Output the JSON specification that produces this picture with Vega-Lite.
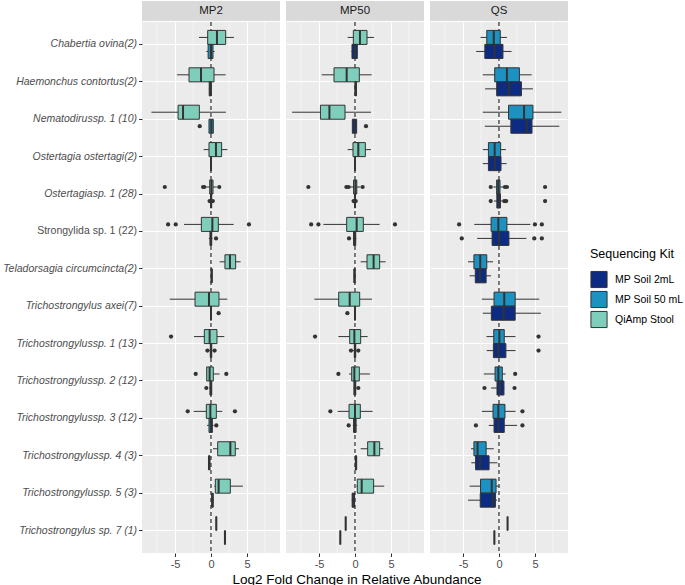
{
"$schema": "https://vega.github.io/schema/vega-lite/v6.json",
"padding": {"left": 2, "top": 1, "right": 5, "bottom": 0},
"background": "white",
"spacing": 6,
"title": {"text": "Log2 Fold Change in Relative Abundance", "orient": "bottom", "anchor": "middle", "frame": "group", "dx": 215, "fontSize": 13.5, "fontWeight": "normal", "color": "#000000", "offset": 3, "font": "Liberation Sans"},
"resolve": {"scale": {"yOffset": "independent", "fill": "shared"}},
"config": {
 "font": "Liberation Sans",
 "view": {"stroke": null},
 "axis": {"labelColor": "#4d4d4d", "labelFontSize": 11, "tickColor": "#333333", "tickSize": 3.5, "domain": false, "gridColor": "#ffffff", "titleFontWeight": "normal", "titleColor": "#000000", "titleFontSize": 13.5, "labelFont": "Liberation Sans", "titleFont": "Liberation Sans"},
 "legend": {"labelFont": "Liberation Sans", "titleFont": "Liberation Sans"}
},
"datasets": {
"minor": [{"g": -7.5}, {"g": -2.5}, {"g": 2.5}, {"g": 7.5}],
"boxes": [
{"panel":"MP2","taxon":"Chabertia ovina(2)","kit":"QiAmp Stool","lo":-1.67,"q1":-0.46,"med":0.83,"q3":2.04,"hi":3.19},
{"panel":"MP2","taxon":"Haemonchus contortus(2)","kit":"QiAmp Stool","lo":-4.72,"q1":-3.06,"med":-1.39,"q3":0.42,"hi":2.04},
{"panel":"MP2","taxon":"Nematodirussp. 1 (10)","kit":"QiAmp Stool","lo":-8.29,"q1":-4.58,"med":-3.89,"q3":-1.62,"hi":2.08},
{"panel":"MP2","taxon":"Ostertagia ostertagi(2)","kit":"QiAmp Stool","lo":-1.02,"q1":-0.28,"med":0.69,"q3":1.48,"hi":2.27},
{"panel":"MP2","taxon":"Ostertagiasp. 1 (28)","kit":"QiAmp Stool","lo":-0.8,"q1":-0.18,"med":0.05,"q3":0.28,"hi":0.8},
{"panel":"MP2","taxon":"Strongylida sp. 1 (22)","kit":"QiAmp Stool","lo":-3.75,"q1":-1.34,"med":0.19,"q3":1.02,"hi":3.15},
{"panel":"MP2","taxon":"Teladorsagia circumcincta(2)","kit":"QiAmp Stool","lo":1.2,"q1":1.94,"med":2.64,"q3":3.43,"hi":4.12},
{"panel":"MP2","taxon":"Trichostrongylus axei(7)","kit":"QiAmp Stool","lo":-5.74,"q1":-2.22,"med":-0.28,"q3":1.11,"hi":2.27},
{"panel":"MP2","taxon":"Trichostrongylussp. 1 (13)","kit":"QiAmp Stool","lo":-2.36,"q1":-0.93,"med":-0.19,"q3":0.83,"hi":1.85},
{"panel":"MP2","taxon":"Trichostrongylussp. 2 (12)","kit":"QiAmp Stool","lo":-0.65,"q1":-0.6,"med":-0.19,"q3":0.32,"hi":1.2},
{"panel":"MP2","taxon":"Trichostrongylussp. 3 (12)","kit":"QiAmp Stool","lo":-2.41,"q1":-0.65,"med":-0.09,"q3":0.74,"hi":1.57},
{"panel":"MP2","taxon":"Trichostrongylussp. 4 (3)","kit":"QiAmp Stool","lo":0.28,"q1":0.93,"med":2.69,"q3":3.38,"hi":3.89},
{"panel":"MP2","taxon":"Trichostrongylussp. 5 (3)","kit":"QiAmp Stool","lo":0.45,"q1":0.6,"med":1.06,"q3":2.69,"hi":4.44},
{"panel":"MP2","taxon":"Trichostrongylus sp. 7 (1)","kit":"QiAmp Stool","lo":0.74,"q1":0.74,"med":0.74,"q3":0.74,"hi":0.74},
{"panel":"MP2","taxon":"Chabertia ovina(2)","kit":"MP Soil 50 mL","lo":-0.65,"q1":-0.4,"med":0.0,"q3":0.28,"hi":0.5},
{"panel":"MP2","taxon":"Haemonchus contortus(2)","kit":"MP Soil 50 mL","lo":-0.3,"q1":-0.25,"med":-0.1,"q3":0.05,"hi":0.1},
{"panel":"MP2","taxon":"Nematodirussp. 1 (10)","kit":"MP Soil 50 mL","lo":-0.28,"q1":-0.28,"med":0.05,"q3":0.32,"hi":0.32},
{"panel":"MP2","taxon":"Ostertagia ostertagi(2)","kit":"MP Soil 50 mL","lo":-0.08,"q1":-0.05,"med":0.0,"q3":0.05,"hi":0.08},
{"panel":"MP2","taxon":"Ostertagiasp. 1 (28)","kit":"MP Soil 50 mL","lo":-0.1,"q1":-0.05,"med":0.02,"q3":0.08,"hi":0.15},
{"panel":"MP2","taxon":"Strongylida sp. 1 (22)","kit":"MP Soil 50 mL","lo":-0.3,"q1":-0.15,"med":0.0,"q3":0.1,"hi":0.2},
{"panel":"MP2","taxon":"Teladorsagia circumcincta(2)","kit":"MP Soil 50 mL","lo":0.0,"q1":0.02,"med":0.1,"q3":0.15,"hi":0.2},
{"panel":"MP2","taxon":"Trichostrongylus axei(7)","kit":"MP Soil 50 mL","lo":-0.14,"q1":-0.05,"med":0.0,"q3":0.05,"hi":0.1},
{"panel":"MP2","taxon":"Trichostrongylussp. 1 (13)","kit":"MP Soil 50 mL","lo":-0.2,"q1":-0.1,"med":0.0,"q3":0.1,"hi":0.2},
{"panel":"MP2","taxon":"Trichostrongylussp. 2 (12)","kit":"MP Soil 50 mL","lo":-0.25,"q1":-0.15,"med":0.0,"q3":0.1,"hi":0.15},
{"panel":"MP2","taxon":"Trichostrongylussp. 3 (12)","kit":"MP Soil 50 mL","lo":-0.55,"q1":-0.28,"med":0.0,"q3":0.19,"hi":0.37},
{"panel":"MP2","taxon":"Trichostrongylussp. 4 (3)","kit":"MP Soil 50 mL","lo":-0.42,"q1":-0.35,"med":-0.25,"q3":-0.15,"hi":-0.1},
{"panel":"MP2","taxon":"Trichostrongylussp. 5 (3)","kit":"MP Soil 50 mL","lo":0.05,"q1":0.1,"med":0.2,"q3":0.3,"hi":0.37},
{"panel":"MP2","taxon":"Trichostrongylus sp. 7 (1)","kit":"MP Soil 50 mL","lo":1.94,"q1":1.94,"med":1.94,"q3":1.94,"hi":1.94},
{"panel":"MP50","taxon":"Chabertia ovina(2)","kit":"QiAmp Stool","lo":-1.02,"q1":-0.23,"med":0.69,"q3":1.67,"hi":2.64},
{"panel":"MP50","taxon":"Haemonchus contortus(2)","kit":"QiAmp Stool","lo":-4.63,"q1":-2.92,"med":-1.16,"q3":0.6,"hi":2.31},
{"panel":"MP50","taxon":"Nematodirussp. 1 (10)","kit":"QiAmp Stool","lo":-8.75,"q1":-4.81,"med":-3.56,"q3":-1.39,"hi":2.22},
{"panel":"MP50","taxon":"Ostertagia ostertagi(2)","kit":"QiAmp Stool","lo":-1.02,"q1":-0.28,"med":0.46,"q3":1.44,"hi":2.22},
{"panel":"MP50","taxon":"Ostertagiasp. 1 (28)","kit":"QiAmp Stool","lo":-0.7,"q1":-0.2,"med":0.05,"q3":0.25,"hi":0.75},
{"panel":"MP50","taxon":"Strongylida sp. 1 (22)","kit":"QiAmp Stool","lo":-4.4,"q1":-1.16,"med":0.23,"q3":1.16,"hi":3.43},
{"panel":"MP50","taxon":"Teladorsagia circumcincta(2)","kit":"QiAmp Stool","lo":0.79,"q1":1.67,"med":2.59,"q3":3.43,"hi":4.26},
{"panel":"MP50","taxon":"Trichostrongylus axei(7)","kit":"QiAmp Stool","lo":-5.65,"q1":-2.27,"med":-0.74,"q3":0.65,"hi":2.36},
{"panel":"MP50","taxon":"Trichostrongylussp. 1 (13)","kit":"QiAmp Stool","lo":-2.31,"q1":-0.74,"med":-0.09,"q3":0.79,"hi":1.76},
{"panel":"MP50","taxon":"Trichostrongylussp. 2 (12)","kit":"QiAmp Stool","lo":-0.83,"q1":-0.46,"med":-0.09,"q3":0.6,"hi":2.08},
{"panel":"MP50","taxon":"Trichostrongylussp. 3 (12)","kit":"QiAmp Stool","lo":-2.41,"q1":-0.83,"med":0.0,"q3":0.74,"hi":2.45},
{"panel":"MP50","taxon":"Trichostrongylussp. 4 (3)","kit":"QiAmp Stool","lo":0.79,"q1":1.76,"med":2.69,"q3":3.43,"hi":3.94},
{"panel":"MP50","taxon":"Trichostrongylussp. 5 (3)","kit":"QiAmp Stool","lo":0.2,"q1":0.32,"med":0.93,"q3":2.59,"hi":4.07},
{"panel":"MP50","taxon":"Trichostrongylus sp. 7 (1)","kit":"QiAmp Stool","lo":-1.3,"q1":-1.3,"med":-1.3,"q3":-1.3,"hi":-1.3},
{"panel":"MP50","taxon":"Chabertia ovina(2)","kit":"MP Soil 2mL","lo":-0.5,"q1":-0.42,"med":0.0,"q3":0.32,"hi":0.4},
{"panel":"MP50","taxon":"Haemonchus contortus(2)","kit":"MP Soil 2mL","lo":-0.05,"q1":0.0,"med":0.1,"q3":0.2,"hi":0.25},
{"panel":"MP50","taxon":"Nematodirussp. 1 (10)","kit":"MP Soil 2mL","lo":-0.37,"q1":-0.37,"med":-0.05,"q3":0.23,"hi":0.23},
{"panel":"MP50","taxon":"Ostertagia ostertagi(2)","kit":"MP Soil 2mL","lo":-0.05,"q1":-0.03,"med":0.0,"q3":0.03,"hi":0.05},
{"panel":"MP50","taxon":"Ostertagiasp. 1 (28)","kit":"MP Soil 2mL","lo":-0.1,"q1":-0.05,"med":0.0,"q3":0.05,"hi":0.1},
{"panel":"MP50","taxon":"Strongylida sp. 1 (22)","kit":"MP Soil 2mL","lo":-0.3,"q1":-0.2,"med":0.0,"q3":0.1,"hi":0.2},
{"panel":"MP50","taxon":"Teladorsagia circumcincta(2)","kit":"MP Soil 2mL","lo":-0.2,"q1":-0.15,"med":-0.05,"q3":0.0,"hi":0.05},
{"panel":"MP50","taxon":"Trichostrongylus axei(7)","kit":"MP Soil 2mL","lo":-0.1,"q1":-0.05,"med":0.0,"q3":0.05,"hi":0.1},
{"panel":"MP50","taxon":"Trichostrongylussp. 1 (13)","kit":"MP Soil 2mL","lo":-0.25,"q1":-0.1,"med":0.0,"q3":0.1,"hi":0.2},
{"panel":"MP50","taxon":"Trichostrongylussp. 2 (12)","kit":"MP Soil 2mL","lo":-0.2,"q1":-0.15,"med":0.0,"q3":0.1,"hi":0.15},
{"panel":"MP50","taxon":"Trichostrongylussp. 3 (12)","kit":"MP Soil 2mL","lo":-0.3,"q1":-0.2,"med":0.0,"q3":0.15,"hi":0.3},
{"panel":"MP50","taxon":"Trichostrongylussp. 4 (3)","kit":"MP Soil 2mL","lo":0.0,"q1":0.05,"med":0.15,"q3":0.22,"hi":0.28},
{"panel":"MP50","taxon":"Trichostrongylussp. 5 (3)","kit":"MP Soil 2mL","lo":-0.46,"q1":-0.4,"med":-0.2,"q3":-0.05,"hi":0.0},
{"panel":"MP50","taxon":"Trichostrongylus sp. 7 (1)","kit":"MP Soil 2mL","lo":-2.04,"q1":-2.04,"med":-2.04,"q3":-2.04,"hi":-2.04},
{"panel":"QS","taxon":"Chabertia ovina(2)","kit":"MP Soil 50 mL","lo":-2.57,"q1":-1.7,"med":-0.73,"q3":0.18,"hi":1.1},
{"panel":"QS","taxon":"Haemonchus contortus(2)","kit":"MP Soil 50 mL","lo":-2.25,"q1":-0.6,"med":1.1,"q3":2.84,"hi":4.54},
{"panel":"QS","taxon":"Nematodirussp. 1 (10)","kit":"MP Soil 50 mL","lo":-2.25,"q1":1.33,"med":3.49,"q3":4.72,"hi":8.67},
{"panel":"QS","taxon":"Ostertagia ostertagi(2)","kit":"MP Soil 50 mL","lo":-2.25,"q1":-1.47,"med":-0.6,"q3":0.23,"hi":0.96},
{"panel":"QS","taxon":"Ostertagiasp. 1 (28)","kit":"MP Soil 50 mL","lo":-0.78,"q1":-0.33,"med":-0.1,"q3":0.14,"hi":0.59},
{"panel":"QS","taxon":"Strongylida sp. 1 (22)","kit":"MP Soil 50 mL","lo":-3.44,"q1":-1.1,"med":-0.09,"q3":1.1,"hi":4.36},
{"panel":"QS","taxon":"Teladorsagia circumcincta(2)","kit":"MP Soil 50 mL","lo":-4.31,"q1":-3.49,"med":-2.61,"q3":-1.7,"hi":-0.83},
{"panel":"QS","taxon":"Trichostrongylus axei(7)","kit":"MP Soil 50 mL","lo":-2.39,"q1":-0.69,"med":0.73,"q3":2.25,"hi":5.6},
{"panel":"QS","taxon":"Trichostrongylussp. 1 (13)","kit":"MP Soil 50 mL","lo":-1.74,"q1":-0.73,"med":0.05,"q3":0.73,"hi":2.29},
{"panel":"QS","taxon":"Trichostrongylussp. 2 (12)","kit":"MP Soil 50 mL","lo":-2.11,"q1":-0.55,"med":-0.09,"q3":0.46,"hi":0.92},
{"panel":"QS","taxon":"Trichostrongylussp. 3 (12)","kit":"MP Soil 50 mL","lo":-2.39,"q1":-0.83,"med":-0.09,"q3":0.83,"hi":2.29},
{"panel":"QS","taxon":"Trichostrongylussp. 4 (3)","kit":"MP Soil 50 mL","lo":-3.9,"q1":-3.49,"med":-2.98,"q3":-1.79,"hi":-0.73},
{"panel":"QS","taxon":"Trichostrongylussp. 5 (3)","kit":"MP Soil 50 mL","lo":-4.08,"q1":-2.57,"med":-1.01,"q3":-0.41,"hi":0.05},
{"panel":"QS","taxon":"Trichostrongylus sp. 7 (1)","kit":"MP Soil 50 mL","lo":1.19,"q1":1.19,"med":1.19,"q3":1.19,"hi":1.19},
{"panel":"QS","taxon":"Chabertia ovina(2)","kit":"MP Soil 2mL","lo":-3.17,"q1":-1.97,"med":-0.64,"q3":0.55,"hi":1.74},
{"panel":"QS","taxon":"Haemonchus contortus(2)","kit":"MP Soil 2mL","lo":-1.93,"q1":-0.32,"med":1.42,"q3":3.12,"hi":4.72},
{"panel":"QS","taxon":"Nematodirussp. 1 (10)","kit":"MP Soil 2mL","lo":-1.97,"q1":1.65,"med":3.85,"q3":4.59,"hi":8.39},
{"panel":"QS","taxon":"Ostertagia ostertagi(2)","kit":"MP Soil 2mL","lo":-2.25,"q1":-1.47,"med":-0.55,"q3":0.28,"hi":1.06},
{"panel":"QS","taxon":"Ostertagiasp. 1 (28)","kit":"MP Soil 2mL","lo":-0.7,"q1":-0.3,"med":-0.05,"q3":0.2,"hi":0.5},
{"panel":"QS","taxon":"Strongylida sp. 1 (22)","kit":"MP Soil 2mL","lo":-3.03,"q1":-0.96,"med":0.0,"q3":1.38,"hi":3.81},
{"panel":"QS","taxon":"Teladorsagia circumcincta(2)","kit":"MP Soil 2mL","lo":-4.08,"q1":-3.3,"med":-2.66,"q3":-1.79,"hi":-1.1},
{"panel":"QS","taxon":"Trichostrongylus axei(7)","kit":"MP Soil 2mL","lo":-2.25,"q1":-1.06,"med":0.64,"q3":2.25,"hi":5.83},
{"panel":"QS","taxon":"Trichostrongylussp. 1 (13)","kit":"MP Soil 2mL","lo":-1.7,"q1":-0.78,"med":-0.09,"q3":0.96,"hi":2.29},
{"panel":"QS","taxon":"Trichostrongylussp. 2 (12)","kit":"MP Soil 2mL","lo":-1.1,"q1":-0.28,"med":0.14,"q3":0.69,"hi":0.73},
{"panel":"QS","taxon":"Trichostrongylussp. 3 (12)","kit":"MP Soil 2mL","lo":-1.42,"q1":-0.69,"med":-0.09,"q3":0.73,"hi":2.52},
{"panel":"QS","taxon":"Trichostrongylussp. 4 (3)","kit":"MP Soil 2mL","lo":-3.85,"q1":-3.26,"med":-2.66,"q3":-1.38,"hi":-0.23},
{"panel":"QS","taxon":"Trichostrongylussp. 5 (3)","kit":"MP Soil 2mL","lo":-4.31,"q1":-2.61,"med":-0.87,"q3":-0.5,"hi":-0.28},
{"panel":"QS","taxon":"Trichostrongylus sp. 7 (1)","kit":"MP Soil 2mL","lo":-0.64,"q1":-0.64,"med":-0.64,"q3":-0.64,"hi":-0.64}
],
"outliers": [
{"panel":"MP2","taxon":"Ostertagiasp. 1 (28)","kit":"QiAmp Stool","v":-6.43},
{"panel":"MP2","taxon":"Ostertagiasp. 1 (28)","kit":"QiAmp Stool","v":-1.1},
{"panel":"MP2","taxon":"Ostertagiasp. 1 (28)","kit":"QiAmp Stool","v":-0.95},
{"panel":"MP2","taxon":"Ostertagiasp. 1 (28)","kit":"QiAmp Stool","v":1.15},
{"panel":"MP2","taxon":"Strongylida sp. 1 (22)","kit":"QiAmp Stool","v":-5.97},
{"panel":"MP2","taxon":"Strongylida sp. 1 (22)","kit":"QiAmp Stool","v":-4.91},
{"panel":"MP2","taxon":"Strongylida sp. 1 (22)","kit":"QiAmp Stool","v":5.28},
{"panel":"MP2","taxon":"Trichostrongylussp. 1 (13)","kit":"QiAmp Stool","v":-5.56},
{"panel":"MP2","taxon":"Trichostrongylussp. 2 (12)","kit":"QiAmp Stool","v":-2.13},
{"panel":"MP2","taxon":"Trichostrongylussp. 2 (12)","kit":"QiAmp Stool","v":2.13},
{"panel":"MP2","taxon":"Trichostrongylussp. 3 (12)","kit":"QiAmp Stool","v":-3.24},
{"panel":"MP2","taxon":"Trichostrongylussp. 3 (12)","kit":"QiAmp Stool","v":3.33},
{"panel":"MP2","taxon":"Nematodirussp. 1 (10)","kit":"MP Soil 50 mL","v":-1.57},
{"panel":"MP2","taxon":"Ostertagiasp. 1 (28)","kit":"MP Soil 50 mL","v":-0.2},
{"panel":"MP2","taxon":"Ostertagiasp. 1 (28)","kit":"MP Soil 50 mL","v":0.25},
{"panel":"MP2","taxon":"Strongylida sp. 1 (22)","kit":"MP Soil 50 mL","v":0.7},
{"panel":"MP2","taxon":"Trichostrongylus axei(7)","kit":"MP Soil 50 mL","v":1.06},
{"panel":"MP2","taxon":"Trichostrongylussp. 1 (13)","kit":"MP Soil 50 mL","v":-0.5},
{"panel":"MP2","taxon":"Trichostrongylussp. 1 (13)","kit":"MP Soil 50 mL","v":0.5},
{"panel":"MP2","taxon":"Trichostrongylussp. 2 (12)","kit":"MP Soil 50 mL","v":-0.65},
{"panel":"MP2","taxon":"Trichostrongylussp. 3 (12)","kit":"MP Soil 50 mL","v":0.74},
{"panel":"MP50","taxon":"Ostertagiasp. 1 (28)","kit":"QiAmp Stool","v":-6.49},
{"panel":"MP50","taxon":"Ostertagiasp. 1 (28)","kit":"QiAmp Stool","v":-1.2},
{"panel":"MP50","taxon":"Ostertagiasp. 1 (28)","kit":"QiAmp Stool","v":-0.9},
{"panel":"MP50","taxon":"Ostertagiasp. 1 (28)","kit":"QiAmp Stool","v":1.06},
{"panel":"MP50","taxon":"Strongylida sp. 1 (22)","kit":"QiAmp Stool","v":-6.1},
{"panel":"MP50","taxon":"Strongylida sp. 1 (22)","kit":"QiAmp Stool","v":-5.09},
{"panel":"MP50","taxon":"Strongylida sp. 1 (22)","kit":"QiAmp Stool","v":5.56},
{"panel":"MP50","taxon":"Trichostrongylussp. 1 (13)","kit":"QiAmp Stool","v":-5.56},
{"panel":"MP50","taxon":"Trichostrongylussp. 2 (12)","kit":"QiAmp Stool","v":-2.31},
{"panel":"MP50","taxon":"Trichostrongylussp. 3 (12)","kit":"QiAmp Stool","v":-3.43},
{"panel":"MP50","taxon":"Nematodirussp. 1 (10)","kit":"MP Soil 2mL","v":1.53},
{"panel":"MP50","taxon":"Ostertagiasp. 1 (28)","kit":"MP Soil 2mL","v":-0.2},
{"panel":"MP50","taxon":"Ostertagiasp. 1 (28)","kit":"MP Soil 2mL","v":0.1},
{"panel":"MP50","taxon":"Strongylida sp. 1 (22)","kit":"MP Soil 2mL","v":-0.83},
{"panel":"MP50","taxon":"Trichostrongylus axei(7)","kit":"MP Soil 2mL","v":-1.06},
{"panel":"MP50","taxon":"Trichostrongylussp. 1 (13)","kit":"MP Soil 2mL","v":-0.56},
{"panel":"MP50","taxon":"Trichostrongylussp. 1 (13)","kit":"MP Soil 2mL","v":0.46},
{"panel":"MP50","taxon":"Trichostrongylussp. 2 (12)","kit":"MP Soil 2mL","v":0.46},
{"panel":"MP50","taxon":"Trichostrongylussp. 3 (12)","kit":"MP Soil 2mL","v":-0.88},
{"panel":"QS","taxon":"Ostertagiasp. 1 (28)","kit":"MP Soil 50 mL","v":-1.15},
{"panel":"QS","taxon":"Ostertagiasp. 1 (28)","kit":"MP Soil 50 mL","v":0.82},
{"panel":"QS","taxon":"Ostertagiasp. 1 (28)","kit":"MP Soil 50 mL","v":1.1},
{"panel":"QS","taxon":"Ostertagiasp. 1 (28)","kit":"MP Soil 50 mL","v":6.41},
{"panel":"QS","taxon":"Strongylida sp. 1 (22)","kit":"MP Soil 50 mL","v":-5.55},
{"panel":"QS","taxon":"Strongylida sp. 1 (22)","kit":"MP Soil 50 mL","v":5.0},
{"panel":"QS","taxon":"Strongylida sp. 1 (22)","kit":"MP Soil 50 mL","v":5.96},
{"panel":"QS","taxon":"Trichostrongylussp. 1 (13)","kit":"MP Soil 50 mL","v":5.5},
{"panel":"QS","taxon":"Trichostrongylussp. 2 (12)","kit":"MP Soil 50 mL","v":2.25},
{"panel":"QS","taxon":"Trichostrongylussp. 3 (12)","kit":"MP Soil 50 mL","v":3.26},
{"panel":"QS","taxon":"Ostertagiasp. 1 (28)","kit":"MP Soil 2mL","v":-1.15},
{"panel":"QS","taxon":"Ostertagiasp. 1 (28)","kit":"MP Soil 2mL","v":0.73},
{"panel":"QS","taxon":"Ostertagiasp. 1 (28)","kit":"MP Soil 2mL","v":1.0},
{"panel":"QS","taxon":"Ostertagiasp. 1 (28)","kit":"MP Soil 2mL","v":6.41},
{"panel":"QS","taxon":"Strongylida sp. 1 (22)","kit":"MP Soil 2mL","v":-5.18},
{"panel":"QS","taxon":"Strongylida sp. 1 (22)","kit":"MP Soil 2mL","v":4.91},
{"panel":"QS","taxon":"Strongylida sp. 1 (22)","kit":"MP Soil 2mL","v":5.96},
{"panel":"QS","taxon":"Trichostrongylussp. 1 (13)","kit":"MP Soil 2mL","v":5.5},
{"panel":"QS","taxon":"Trichostrongylussp. 2 (12)","kit":"MP Soil 2mL","v":-2.02},
{"panel":"QS","taxon":"Trichostrongylussp. 2 (12)","kit":"MP Soil 2mL","v":2.16},
{"panel":"QS","taxon":"Trichostrongylussp. 3 (12)","kit":"MP Soil 2mL","v":-3.21},
{"panel":"QS","taxon":"Trichostrongylussp. 3 (12)","kit":"MP Soil 2mL","v":3.26}
]
},
"hconcat": [
{"spacing": 0, "vconcat": [
 {"width": 138, "height": 20, "view": {"fill": "#d9d9d9", "stroke": null}, "data": {"values": [{"p": "MP2"}]}, "mark": {"type": "text", "fontSize": 11.5, "color": "#1a1a1a"}, "encoding": {"text": {"field": "p"}}},
 {"width": 138, "height": 531, "view": {"fill": "#ebebeb", "stroke": null}, "layer": [
  {"data": {"name": "minor"}, "mark": {"type": "rule", "color": "#ffffff", "strokeWidth": 0.5}, "encoding": {"x": {"field": "g", "type": "quantitative", "scale": {"domain": [-9.6, 9.6], "nice": false, "zero": false}, "axis": {"title": null, "values": [-5, 0, 5], "gridWidth": 1.1, "labelPadding": 2, "labelFlush": false, "labelExpr": "replace(datum.label, '−', '-')"}}}},
  {"data": {"values": [{"z": 0}]}, "mark": {"type": "rule", "color": "#000000", "strokeDash": [4, 3], "strokeWidth": 1}, "encoding": {"x": {"field": "z", "type": "quantitative", "scale": {"domain": [-9.6, 9.6], "nice": false, "zero": false}}}},
  {"data": {"name": "boxes"}, "transform": [{"filter": "datum.panel === 'MP2'"}], "mark": {"type": "rule", "color": "#333333", "strokeWidth": 1}, "encoding": {"x": {"field": "lo", "type": "quantitative", "scale": {"domain": [-9.6, 9.6], "nice": false, "zero": false}}, "x2": {"field": "hi"}, "y": {"field": "taxon", "type": "nominal", "scale": {"domain": ["Chabertia ovina(2)","Haemonchus contortus(2)","Nematodirussp. 1 (10)","Ostertagia ostertagi(2)","Ostertagiasp. 1 (28)","Strongylida sp. 1 (22)","Teladorsagia circumcincta(2)","Trichostrongylus axei(7)","Trichostrongylussp. 1 (13)","Trichostrongylussp. 2 (12)","Trichostrongylussp. 3 (12)","Trichostrongylussp. 4 (3)","Trichostrongylussp. 5 (3)","Trichostrongylus sp. 7 (1)"], "paddingInner": 0, "paddingOuter": 0.1}, "axis": {"title": null, "grid": true, "gridWidth": 1.1, "bandPosition": 0.5, "labelFontSize": 10.5, "labelPadding": 2, "labelLimit": 300, "labelFontStyle": {"condition": {"test": "datum.value === 'Strongylida sp. 1 (22)'", "value": "normal"}, "value": "italic"}}}, "yOffset": {"field": "kit", "type": "nominal", "sort": ["QiAmp Stool", "MP Soil 50 mL", "MP Soil 2mL"], "scale": {"paddingInner": 0, "paddingOuter": 0.333}}}},
  {"data": {"name": "boxes"}, "transform": [{"filter": "datum.panel === 'MP2'"}], "mark": {"type": "bar", "stroke": "#333333", "strokeWidth": 1}, "encoding": {"x": {"field": "q1", "type": "quantitative", "scale": {"domain": [-9.6, 9.6], "nice": false, "zero": false}}, "x2": {"field": "q3"}, "y": {"field": "taxon", "type": "nominal"}, "yOffset": {"field": "kit", "type": "nominal", "sort": ["QiAmp Stool", "MP Soil 50 mL", "MP Soil 2mL"]}, "fill": {"field": "kit", "type": "nominal", "scale": {"domain": ["MP Soil 2mL", "MP Soil 50 mL", "QiAmp Stool"], "range": ["#0c2c84", "#1d91c0", "#7fcdbb"]}, "legend": {"title": "Sequencing Kit", "orient": "none", "legendX": 448, "legendY": 247, "symbolType": "square", "symbolSize": 260, "symbolStrokeColor": "#333333", "symbolStrokeWidth": 1, "titleFontSize": 12.5, "titleFontWeight": "normal", "titleColor": "#000000", "labelFontSize": 10.5, "labelColor": "#000000", "labelOffset": 7, "rowPadding": -2, "titlePadding": 10}}}},
  {"data": {"name": "boxes"}, "transform": [{"filter": "datum.panel === 'MP2'"}], "mark": {"type": "bar", "fill": "transparent", "stroke": "#333333", "strokeWidth": 2}, "encoding": {"x": {"field": "med", "type": "quantitative", "scale": {"domain": [-9.6, 9.6], "nice": false, "zero": false}}, "x2": {"field": "med"}, "y": {"field": "taxon", "type": "nominal"}, "yOffset": {"field": "kit", "type": "nominal", "sort": ["QiAmp Stool", "MP Soil 50 mL", "MP Soil 2mL"]}}},
  {"data": {"name": "outliers"}, "transform": [{"filter": "datum.panel === 'MP2'"}], "mark": {"type": "circle", "color": "#333333", "opacity": 1, "size": 18}, "encoding": {"x": {"field": "v", "type": "quantitative", "scale": {"domain": [-9.6, 9.6], "nice": false, "zero": false}}, "y": {"field": "taxon", "type": "nominal"}, "yOffset": {"field": "kit", "type": "nominal", "sort": ["QiAmp Stool", "MP Soil 50 mL", "MP Soil 2mL"]}}}
 ]}
]},
{"spacing": 0, "vconcat": [
 {"width": 138, "height": 20, "view": {"fill": "#d9d9d9", "stroke": null}, "data": {"values": [{"p": "MP50"}]}, "mark": {"type": "text", "fontSize": 11.5, "color": "#1a1a1a"}, "encoding": {"text": {"field": "p"}}},
 {"width": 138, "height": 531, "view": {"fill": "#ebebeb", "stroke": null}, "layer": [
  {"data": {"name": "minor"}, "mark": {"type": "rule", "color": "#ffffff", "strokeWidth": 0.5}, "encoding": {"x": {"field": "g", "type": "quantitative", "scale": {"domain": [-9.6, 9.6], "nice": false, "zero": false}, "axis": {"title": null, "values": [-5, 0, 5], "gridWidth": 1.1, "labelPadding": 2, "labelFlush": false, "labelExpr": "replace(datum.label, '−', '-')"}}}},
  {"data": {"values": [{"z": 0}]}, "mark": {"type": "rule", "color": "#000000", "strokeDash": [4, 3], "strokeWidth": 1}, "encoding": {"x": {"field": "z", "type": "quantitative", "scale": {"domain": [-9.6, 9.6], "nice": false, "zero": false}}}},
  {"data": {"name": "boxes"}, "transform": [{"filter": "datum.panel === 'MP50'"}], "mark": {"type": "rule", "color": "#333333", "strokeWidth": 1}, "encoding": {"x": {"field": "lo", "type": "quantitative", "scale": {"domain": [-9.6, 9.6], "nice": false, "zero": false}}, "x2": {"field": "hi"}, "y": {"field": "taxon", "type": "nominal", "scale": {"domain": ["Chabertia ovina(2)","Haemonchus contortus(2)","Nematodirussp. 1 (10)","Ostertagia ostertagi(2)","Ostertagiasp. 1 (28)","Strongylida sp. 1 (22)","Teladorsagia circumcincta(2)","Trichostrongylus axei(7)","Trichostrongylussp. 1 (13)","Trichostrongylussp. 2 (12)","Trichostrongylussp. 3 (12)","Trichostrongylussp. 4 (3)","Trichostrongylussp. 5 (3)","Trichostrongylus sp. 7 (1)"], "paddingInner": 0, "paddingOuter": 0.1}, "axis": {"title": null, "grid": true, "gridWidth": 1.1, "bandPosition": 0.5, "labels": false, "ticks": false}}, "yOffset": {"field": "kit", "type": "nominal", "sort": ["QiAmp Stool", "MP Soil 50 mL", "MP Soil 2mL"], "scale": {"paddingInner": 0, "paddingOuter": 0.333}}}},
  {"data": {"name": "boxes"}, "transform": [{"filter": "datum.panel === 'MP50'"}], "mark": {"type": "bar", "stroke": "#333333", "strokeWidth": 1}, "encoding": {"x": {"field": "q1", "type": "quantitative", "scale": {"domain": [-9.6, 9.6], "nice": false, "zero": false}}, "x2": {"field": "q3"}, "y": {"field": "taxon", "type": "nominal"}, "yOffset": {"field": "kit", "type": "nominal", "sort": ["QiAmp Stool", "MP Soil 50 mL", "MP Soil 2mL"]}, "fill": {"field": "kit", "type": "nominal", "scale": {"domain": ["MP Soil 2mL", "MP Soil 50 mL", "QiAmp Stool"], "range": ["#0c2c84", "#1d91c0", "#7fcdbb"]}, "legend": {"title": "Sequencing Kit", "orient": "none", "legendX": 448, "legendY": 247, "symbolType": "square", "symbolSize": 260, "symbolStrokeColor": "#333333", "symbolStrokeWidth": 1, "titleFontSize": 12.5, "titleFontWeight": "normal", "titleColor": "#000000", "labelFontSize": 10.5, "labelColor": "#000000", "labelOffset": 7, "rowPadding": -2, "titlePadding": 10}}}},
  {"data": {"name": "boxes"}, "transform": [{"filter": "datum.panel === 'MP50'"}], "mark": {"type": "bar", "fill": "transparent", "stroke": "#333333", "strokeWidth": 2}, "encoding": {"x": {"field": "med", "type": "quantitative", "scale": {"domain": [-9.6, 9.6], "nice": false, "zero": false}}, "x2": {"field": "med"}, "y": {"field": "taxon", "type": "nominal"}, "yOffset": {"field": "kit", "type": "nominal", "sort": ["QiAmp Stool", "MP Soil 50 mL", "MP Soil 2mL"]}}},
  {"data": {"name": "outliers"}, "transform": [{"filter": "datum.panel === 'MP50'"}], "mark": {"type": "circle", "color": "#333333", "opacity": 1, "size": 18}, "encoding": {"x": {"field": "v", "type": "quantitative", "scale": {"domain": [-9.6, 9.6], "nice": false, "zero": false}}, "y": {"field": "taxon", "type": "nominal"}, "yOffset": {"field": "kit", "type": "nominal", "sort": ["QiAmp Stool", "MP Soil 50 mL", "MP Soil 2mL"]}}}
 ]}
]},
{"spacing": 0, "vconcat": [
 {"width": 138, "height": 20, "view": {"fill": "#d9d9d9", "stroke": null}, "data": {"values": [{"p": "QS"}]}, "mark": {"type": "text", "fontSize": 11.5, "color": "#1a1a1a"}, "encoding": {"text": {"field": "p"}}},
 {"width": 138, "height": 531, "view": {"fill": "#ebebeb", "stroke": null}, "layer": [
  {"data": {"name": "minor"}, "mark": {"type": "rule", "color": "#ffffff", "strokeWidth": 0.5}, "encoding": {"x": {"field": "g", "type": "quantitative", "scale": {"domain": [-9.6, 9.6], "nice": false, "zero": false}, "axis": {"title": null, "values": [-5, 0, 5], "gridWidth": 1.1, "labelPadding": 2, "labelFlush": false, "labelExpr": "replace(datum.label, '−', '-')"}}}},
  {"data": {"values": [{"z": 0}]}, "mark": {"type": "rule", "color": "#000000", "strokeDash": [4, 3], "strokeWidth": 1}, "encoding": {"x": {"field": "z", "type": "quantitative", "scale": {"domain": [-9.6, 9.6], "nice": false, "zero": false}}}},
  {"data": {"name": "boxes"}, "transform": [{"filter": "datum.panel === 'QS'"}], "mark": {"type": "rule", "color": "#333333", "strokeWidth": 1}, "encoding": {"x": {"field": "lo", "type": "quantitative", "scale": {"domain": [-9.6, 9.6], "nice": false, "zero": false}}, "x2": {"field": "hi"}, "y": {"field": "taxon", "type": "nominal", "scale": {"domain": ["Chabertia ovina(2)","Haemonchus contortus(2)","Nematodirussp. 1 (10)","Ostertagia ostertagi(2)","Ostertagiasp. 1 (28)","Strongylida sp. 1 (22)","Teladorsagia circumcincta(2)","Trichostrongylus axei(7)","Trichostrongylussp. 1 (13)","Trichostrongylussp. 2 (12)","Trichostrongylussp. 3 (12)","Trichostrongylussp. 4 (3)","Trichostrongylussp. 5 (3)","Trichostrongylus sp. 7 (1)"], "paddingInner": 0, "paddingOuter": 0.1}, "axis": {"title": null, "grid": true, "gridWidth": 1.1, "bandPosition": 0.5, "labels": false, "ticks": false}}, "yOffset": {"field": "kit", "type": "nominal", "sort": ["QiAmp Stool", "MP Soil 50 mL", "MP Soil 2mL"], "scale": {"paddingInner": 0, "paddingOuter": 0.333}}}},
  {"data": {"name": "boxes"}, "transform": [{"filter": "datum.panel === 'QS'"}], "mark": {"type": "bar", "stroke": "#333333", "strokeWidth": 1}, "encoding": {"x": {"field": "q1", "type": "quantitative", "scale": {"domain": [-9.6, 9.6], "nice": false, "zero": false}}, "x2": {"field": "q3"}, "y": {"field": "taxon", "type": "nominal"}, "yOffset": {"field": "kit", "type": "nominal", "sort": ["QiAmp Stool", "MP Soil 50 mL", "MP Soil 2mL"]}, "fill": {"field": "kit", "type": "nominal", "scale": {"domain": ["MP Soil 2mL", "MP Soil 50 mL", "QiAmp Stool"], "range": ["#0c2c84", "#1d91c0", "#7fcdbb"]}, "legend": {"title": "Sequencing Kit", "orient": "none", "legendX": 448, "legendY": 247, "symbolType": "square", "symbolSize": 260, "symbolStrokeColor": "#333333", "symbolStrokeWidth": 1, "titleFontSize": 12.5, "titleFontWeight": "normal", "titleColor": "#000000", "labelFontSize": 10.5, "labelColor": "#000000", "labelOffset": 7, "rowPadding": -2, "titlePadding": 10}}}},
  {"data": {"name": "boxes"}, "transform": [{"filter": "datum.panel === 'QS'"}], "mark": {"type": "bar", "fill": "transparent", "stroke": "#333333", "strokeWidth": 2}, "encoding": {"x": {"field": "med", "type": "quantitative", "scale": {"domain": [-9.6, 9.6], "nice": false, "zero": false}}, "x2": {"field": "med"}, "y": {"field": "taxon", "type": "nominal"}, "yOffset": {"field": "kit", "type": "nominal", "sort": ["QiAmp Stool", "MP Soil 50 mL", "MP Soil 2mL"]}}},
  {"data": {"name": "outliers"}, "transform": [{"filter": "datum.panel === 'QS'"}], "mark": {"type": "circle", "color": "#333333", "opacity": 1, "size": 18}, "encoding": {"x": {"field": "v", "type": "quantitative", "scale": {"domain": [-9.6, 9.6], "nice": false, "zero": false}}, "y": {"field": "taxon", "type": "nominal"}, "yOffset": {"field": "kit", "type": "nominal", "sort": ["QiAmp Stool", "MP Soil 50 mL", "MP Soil 2mL"]}}}
 ]}
]}
]
}
